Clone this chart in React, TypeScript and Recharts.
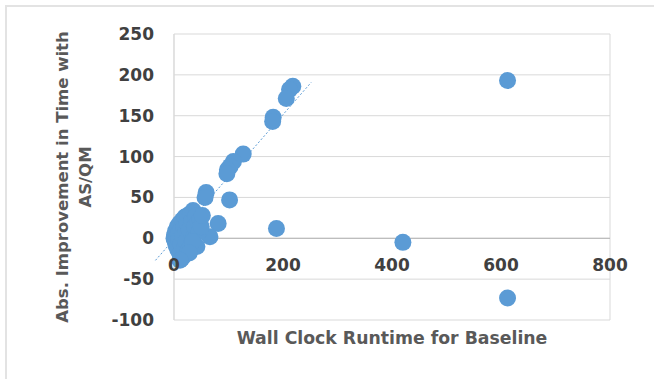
import React from "react";
import {
  ScatterChart,
  Scatter,
  XAxis,
  YAxis,
  CartesianGrid,
  ReferenceLine,
  ReferenceDot,
} from "recharts";

// baseline wall clock runtime vs. improvement with AS/QM
const runtime = [
  612, 420, 612, 188, 218, 212, 206, 182, 181, 127, 109, 103, 98, 97, 59, 57, 102, 81, 66,
  0, 1, 2, 3, 4, 5, 6, 7, 8, 9, 10, 11, 12, 13, 14, 15, 16, 17, 18, 19, 20, 21, 22, 24,
  25, 26, 28, 30, 31, 33, 35, 36, 38, 40, 42, 44, 46, 48, 50, 52, 34, 28, 11,
];
const improvement = [
  193, -5, -73, 12, 186, 182, 171, 148, 143, 103, 94, 88, 84, 79, 56, 50, 47, 18, 2,
  0, 4, -4, 9, -9, 2, 14, -14, 6, -2, 18, -19, 10, -7, -25, 22, 3, -22, 14, -12, 26, 6,
  -4, 19, 28, -15, 10, 30, -8, 22, 34, 2, 15, 27, -10, 20, 8, 23, 14, 28, -4, -18, -27,
];
const points = runtime.map((x, i) => ({ x, y: improvement[i] }));

// linear trendline as drawn (with backward forecast)
const trendline = [
  { x: -34, y: -27 },
  { x: 252, y: 191 },
];

const xTicks = [0, 200, 400, 600, 800];
const yTicks = [-100, -50, 0, 50, 100, 150, 200, 250];

const blue = "#5B9BD5";
const font = "'DejaVu Sans', sans-serif";

const Dot = (p: any) => <circle cx={p.cx} cy={p.cy} r={8.5} fill={blue} />;

const YTitle = (props: any) => {
  const vb = props.viewBox || { x: 0, y: 0, width: 0, height: 0 };
  const cx = vb.x + 68;
  const cy = vb.y + vb.height / 2;
  return (
    <text
      transform={`rotate(-90, ${cx}, ${cy})`}
      x={cx}
      y={cy}
      textAnchor="middle"
      fontFamily={font}
      fontWeight="bold"
      fontSize={16.5}
      fill="#595959"
    >
      <tspan x={cx} dy={0}>
        Abs. Improvement in Time with
      </tspan>
      <tspan x={cx} dy={23}>
        AS/QM
      </tspan>
    </text>
  );
};

export default function App() {
  return (
    <div
      style={{
        position: "absolute",
        left: 0,
        top: 0,
        width: 654,
        height: 379,
        overflow: "hidden",
        background: "#fff",
      }}
    >
      <div
        style={{
          position: "absolute",
          left: 5,
          top: 5,
          width: 700,
          height: 400,
          border: "2px solid #e3e3e3",
        }}
      />
      <div style={{ position: "absolute", left: 0, top: 0 }}>
        <ScatterChart
          width={654}
          height={379}
          margin={{ top: 34, right: 44, bottom: 0, left: 0 }}
        >
          <CartesianGrid stroke="#d9d9d9" />
          <XAxis
            type="number"
            dataKey="x"
            domain={[0, 800]}
            ticks={xTicks}
            tick={false}
            tickLine={false}
            axisLine={false}
            height={59}
            label={{
              value: "Wall Clock Runtime for Baseline",
              position: "insideTop",
              offset: 12,
              fontFamily: font,
              fontWeight: "bold",
              fontSize: 17.3,
              fill: "#595959",
            }}
          />
          <YAxis
            type="number"
            dataKey="y"
            domain={[-100, 250]}
            ticks={yTicks}
            width={174}
            tickLine={false}
            tickSize={0}
            tickMargin={20}
            axisLine={{ stroke: "#d9d9d9" }}
            tick={{ fontFamily: font, fontWeight: "bold", fontSize: 17, fill: "#404040" }}
            label={{ content: YTitle }}
          />
          <ReferenceLine y={0} stroke="#b3b3b3" />
          {xTicks.map((t) => (
            <ReferenceDot
              key={t}
              x={t}
              y={0}
              r={0}
              fill="none"
              stroke="none"
              label={{
                value: t,
                position: "bottom",
                offset: 21,
                fontFamily: font,
                fontWeight: "bold",
                fontSize: 17,
                fill: "#404040",
              }}
            />
          ))}
          <Scatter data={points} shape={Dot} isAnimationActive={false} />
          <ReferenceLine
            segment={trendline}
            ifOverflow="visible"
            stroke={blue}
            strokeWidth={1}
            strokeDasharray="2 2"
          />
        </ScatterChart>
      </div>
    </div>
  );
}
